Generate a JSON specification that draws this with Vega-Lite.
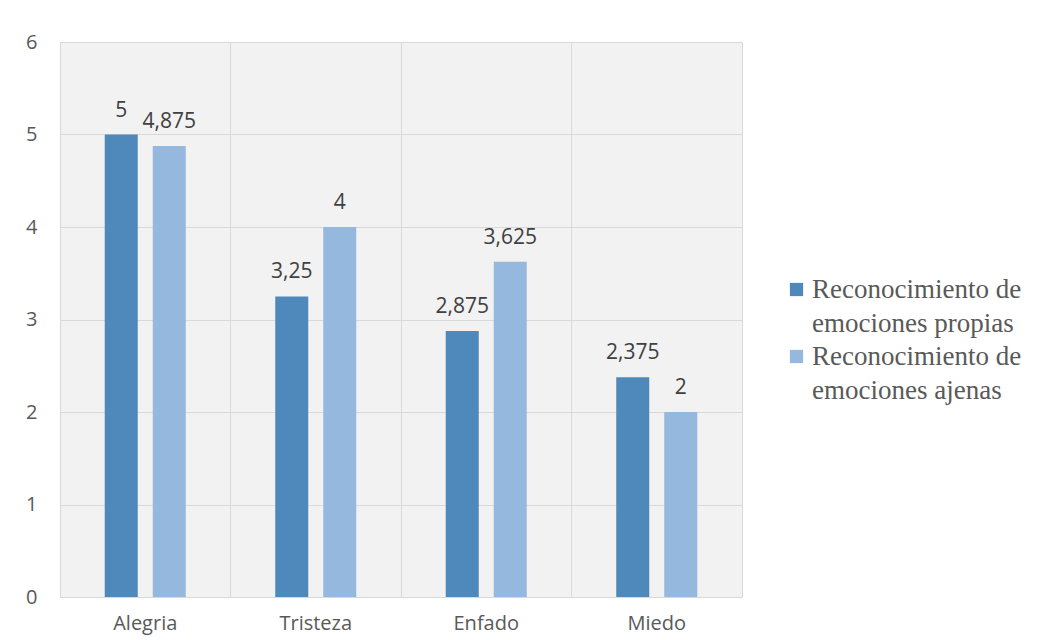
{
  "$schema": "https://vega.github.io/schema/vega-lite/v6.json",
  "width": 682,
  "height": 555,
  "autosize": {"type": "none"},
  "padding": {"left": 60, "top": 42, "right": 310, "bottom": 43},
  "background": "white",
  "data": {"values": [
    {"emocion": "Alegria", "serie": "Reconocimiento de\nemociones propias", "valor": 5, "etiqueta": "5"},
    {"emocion": "Alegria", "serie": "Reconocimiento de\nemociones ajenas", "valor": 4.875, "etiqueta": "4,875"},
    {"emocion": "Tristeza", "serie": "Reconocimiento de\nemociones propias", "valor": 3.25, "etiqueta": "3,25"},
    {"emocion": "Tristeza", "serie": "Reconocimiento de\nemociones ajenas", "valor": 4, "etiqueta": "4"},
    {"emocion": "Enfado", "serie": "Reconocimiento de\nemociones propias", "valor": 2.875, "etiqueta": "2,875"},
    {"emocion": "Enfado", "serie": "Reconocimiento de\nemociones ajenas", "valor": 3.625, "etiqueta": "3,625"},
    {"emocion": "Miedo", "serie": "Reconocimiento de\nemociones propias", "valor": 2.375, "etiqueta": "2,375"},
    {"emocion": "Miedo", "serie": "Reconocimiento de\nemociones ajenas", "valor": 2, "etiqueta": "2"}
  ]},
  "encoding": {
    "x": {
      "field": "emocion", "type": "nominal", "sort": ["Alegria", "Tristeza", "Enfado", "Miedo"],
      "scale": {"paddingInner": 0, "paddingOuter": 0},
      "axis": {"title": null, "labelAngle": 0, "domain": false, "ticks": false, "grid": true, "bandPosition": 0,
               "gridColor": "#d9d9d9", "labelFont": "Open Sans", "labelFontSize": 20, "labelColor": "#595959", "labelPadding": 16}
    },
    "xOffset": {
      "field": "serie", "type": "nominal",
      "sort": ["Reconocimiento de\nemociones propias", "Reconocimiento de\nemociones ajenas"],
      "scale": {"paddingInner": 0.3125, "paddingOuter": 0.932}
    },
    "y": {
      "field": "valor", "type": "quantitative",
      "scale": {"domain": [0, 6], "nice": false},
      "axis": {"title": null, "values": [0,1,2,3,4,5,6], "labelOverlap": false, "domain": false, "ticks": false, "gridColor": "#d9d9d9",
               "labelFont": "Open Sans", "labelFontSize": 20, "labelColor": "#595959", "labelPadding": 23}
    }
  },
  "layer": [
    {
      "mark": {"type": "bar"},
      "encoding": {
        "color": {
          "field": "serie", "type": "nominal",
          "sort": ["Reconocimiento de\nemociones propias", "Reconocimiento de\nemociones ajenas"],
          "scale": {"range": ["#4f88ba", "#95b8de"]},
          "legend": {
            "title": null, "orient": "none", "legendX": 723, "legendY": 234,
            "symbolType": "square", "symbolSize": 175, "symbolStrokeWidth": 0,
            "labelFont": "Liberation Serif", "labelFontSize": 27, "labelColor": "#595959",
            "labelExpr": "split(datum.label, '\\n')", "labelLimit": 400, "labelOffset": 2,
            "rowPadding": 5
          }
        }
      }
    },
    {
      "mark": {"type": "text", "baseline": "alphabetic", "dy": -18, "font": "Open Sans", "fontSize": 21, "color": "#404040"},
      "encoding": {"text": {"field": "etiqueta"}}
    }
  ],
  "config": {
    "view": {"fill": "#f2f2f2", "stroke": "#d9d9d9"},
    "style": {"guide-label": {"lineHeight": 34}}
  }
}
